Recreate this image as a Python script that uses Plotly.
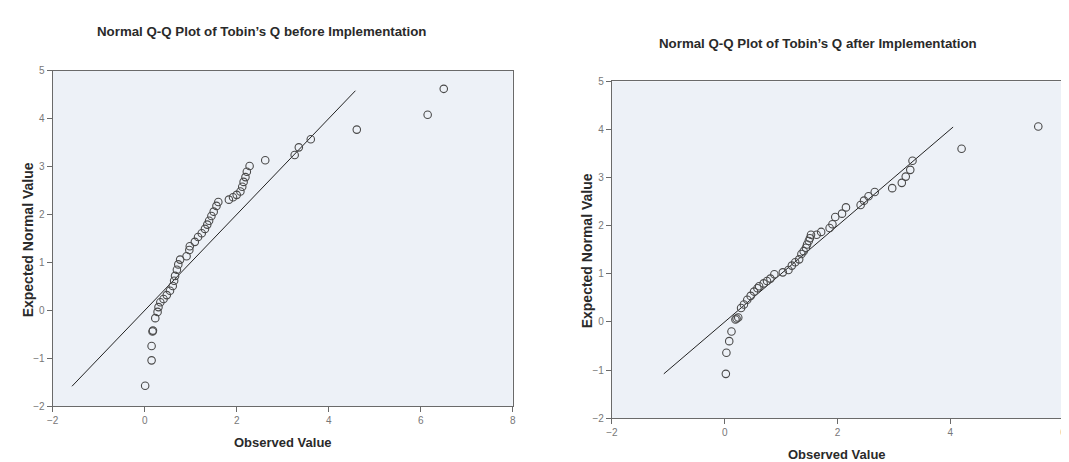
import plotly.graph_objects as go

# ---- data: Normal Q-Q plot, Tobin's Q before implementation ----
before_observed = [0.01, 0.15, 0.15, 0.17, 0.18, 0.23, 0.28, 0.30, 0.34, 0.41, 0.48, 0.55,
                   0.61, 0.64, 0.66, 0.70, 0.73, 0.77, 0.91, 0.97, 0.98, 1.09, 1.16, 1.24,
                   1.31, 1.36, 1.40, 1.45, 1.50, 1.56, 1.60, 1.83, 1.92, 2.00, 2.08, 2.12,
                   2.15, 2.19, 2.22, 2.28, 2.62, 3.26, 3.35, 3.61, 4.61, 6.15, 6.50]
before_expected = [-1.57, -1.04, -0.74, -0.44, -0.42, -0.16, -0.03, 0.07, 0.17, 0.24, 0.32, 0.41,
                   0.51, 0.62, 0.72, 0.85, 0.96, 1.06, 1.13, 1.26, 1.34, 1.43, 1.53, 1.61,
                   1.70, 1.79, 1.87, 1.97, 2.06, 2.18, 2.26, 2.31, 2.36, 2.41, 2.48, 2.58,
                   2.68, 2.78, 2.89, 3.01, 3.13, 3.24, 3.40, 3.57, 3.77, 4.08, 4.62]
before_ref = [-1.58, 4.58]

# ---- data: Normal Q-Q plot, Tobin's Q after implementation ----
after_observed = [0.02, 0.03, 0.08, 0.12, 0.19, 0.21, 0.24, 0.29, 0.34, 0.40, 0.46, 0.52,
                  0.58, 0.61, 0.69, 0.75, 0.81, 0.88, 1.03, 1.13, 1.19, 1.25, 1.32, 1.36,
                  1.40, 1.44, 1.46, 1.49, 1.51, 1.53, 1.63, 1.71, 1.86, 1.91, 1.96, 2.08,
                  2.15, 2.41, 2.47, 2.55, 2.66, 2.97, 3.14, 3.21, 3.29, 3.33, 4.20, 5.56]
after_expected = [-1.08, -0.64, -0.40, -0.20, 0.05, 0.07, 0.09, 0.29, 0.36, 0.46, 0.54, 0.63,
                  0.70, 0.74, 0.80, 0.85, 0.90, 0.99, 1.03, 1.08, 1.17, 1.24, 1.30, 1.41,
                  1.47, 1.54, 1.61, 1.68, 1.74, 1.81, 1.81, 1.87, 1.95, 2.03, 2.18, 2.25,
                  2.38, 2.43, 2.52, 2.61, 2.70, 2.78, 2.89, 3.02, 3.16, 3.35, 3.60, 4.06]
after_ref = [-1.08, 4.05]

titles = ["Normal Q-Q Plot of Tobin\u2019s Q before Implementation",
          "Normal Q-Q Plot of Tobin\u2019s Q after Implementation"]
x_title = "Observed Value"
y_title = "Expected Normal Value"
before_xticks = [-2, 0, 2, 4, 6, 8]
after_xticks = [-2, 0, 2, 4, 6]
y_ticks = [-2, -1, 0, 1, 2, 3, 4, 5]

W, H = 1069, 462
FONT = "Liberation Sans, Arial, sans-serif"
PLOT_BG = "#edf1f7"
MARK = "#4a4a4a"

fig = go.Figure()

def px_x(p):
    return p / W

def px_y(p):
    return 1 - p / H

# reference lines and markers
fig.add_trace(go.Scatter(x=before_ref, y=before_ref, mode="lines",
                         line=dict(color="#222222", width=1), xaxis="x", yaxis="y",
                         hoverinfo="skip", showlegend=False))
fig.add_trace(go.Scatter(x=before_observed, y=before_expected, mode="markers",
                         marker=dict(symbol="circle-open", size=7.5, color=MARK,
                                     line=dict(width=1.1, color=MARK)),
                         xaxis="x", yaxis="y", showlegend=False))
fig.add_trace(go.Scatter(x=after_ref, y=after_ref, mode="lines",
                         line=dict(color="#222222", width=1), xaxis="x2", yaxis="y2",
                         hoverinfo="skip", showlegend=False))
fig.add_trace(go.Scatter(x=after_observed, y=after_expected, mode="markers",
                         marker=dict(symbol="circle-open", size=7.5, color=MARK,
                                     line=dict(width=1.1, color=MARK)),
                         xaxis="x2", yaxis="y2", showlegend=False))

axis_common = dict(showgrid=False, zeroline=False, showline=True, mirror=True,
                   linecolor="#6a6a6a", linewidth=1, ticks="outside", ticklen=5,
                   tickcolor="#6a6a6a", ticklabeloverflow="allow",
                   tickfont=dict(family=FONT, size=10, color="#777777"))

fig.update_layout(
    width=W, height=H,
    margin=dict(l=0, r=0, t=0, b=0),
    paper_bgcolor="white",
    plot_bgcolor=PLOT_BG,
    showlegend=False,
    xaxis=dict(domain=[px_x(39), px_x(503)], range=[-2, 8], tickvals=before_xticks,
               anchor="y", **axis_common),
    yaxis=dict(domain=[px_y(403), px_y(59)], range=[-2, 5], tickvals=y_ticks,
               anchor="x", **axis_common),
    xaxis2=dict(domain=[px_x(603), px_x(1058)], range=[-2, 6], tickvals=after_xticks,
                anchor="y2", **axis_common),
    yaxis2=dict(domain=[px_y(415), px_y(70)], range=[-2, 5], tickvals=y_ticks,
                anchor="x2", **axis_common),
)

def ann(text, x, y, size, bold=True, angle=0):
    fig.add_annotation(text=f"<b>{text}</b>" if bold else text,
                       x=px_x(x), y=px_y(y), xref="paper", yref="paper",
                       showarrow=False, textangle=angle, xanchor="center", yanchor="middle",
                       font=dict(family=FONT, size=size, color="#2a2a2a"))

ann(titles[0], 250, 19, 13.3)
ann(titles[1], 811, 31, 13.3)
ann(x_title, 271, 440, 13)
ann(x_title, 830, 452, 13)
ann(y_title, 15, 232, 14, angle=-90)
ann(y_title, 578, 244, 14, angle=-90)

fig.write_html("out.html")
